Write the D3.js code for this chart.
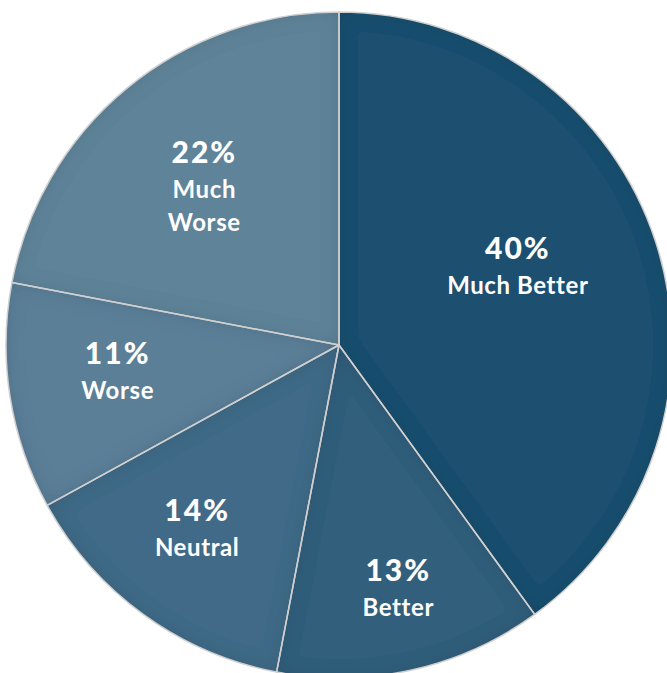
<!DOCTYPE html>
<html><head><meta charset="utf-8">
<script src="https://cdn.jsdelivr.net/npm/d3@7"></script>
<style>html,body{margin:0;padding:0;background:#fff;}svg{display:block;}</style>
</head><body>
<svg id="chart" width="667" height="673"></svg>
<script>
const categories = ["Much Better", "Better", "Neutral", "Worse", "Much Worse"];
const values = [40, 13, 14, 11, 22];
const percentLabels = ["40%", "13%", "14%", "11%", "22%"];
const nameLines = [["Much Better"], ["Better"], ["Neutral"], ["Worse"], ["Much", "Worse"]];
const colors = ["#1c5070", "#335f7c", "#416b87", "#5c7f98", "#5f8399"];

// layout
const cx = 339, cy = 345, R = 333;
const labelRadius = [195, 252, 233, 223, 207];
const labelAngleShift = [-5.5, -1, 1.5, 2, -1]; // degrees

const svg = d3.select("#chart");
const defs = svg.append("defs");
const f = defs.append("filter").attr("id", "inset")
  .attr("filterUnits", "userSpaceOnUse")
  .attr("x", -450).attr("y", -450).attr("width", 900).attr("height", 900);
f.append("feComponentTransfer").attr("in", "SourceAlpha").attr("result", "inv")
  .append("feFuncA").attr("type", "table").attr("tableValues", "1 0");
f.append("feGaussianBlur").attr("in", "inv").attr("stdDeviation", 9).attr("result", "blur");
f.append("feFlood").attr("flood-color", "#000").attr("flood-opacity", 0.22).attr("result", "fl");
f.append("feComposite").attr("in", "fl").attr("in2", "blur").attr("operator", "in").attr("result", "sh");
f.append("feComposite").attr("in", "sh").attr("in2", "SourceAlpha").attr("operator", "in").attr("result", "shc");
const m = f.append("feMerge");
m.append("feMergeNode").attr("in", "SourceGraphic");
m.append("feMergeNode").attr("in", "shc");

const pie = d3.pie().sort(null).value(d => d)(values);
const arc = d3.arc().innerRadius(0).outerRadius(R);

const g = svg.append("g").attr("transform", `translate(${cx},${cy})`);
g.selectAll("path.slice").data(pie).join("path")
  .attr("class", "slice")
  .attr("d", arc)
  .attr("fill", (d, i) => colors[i])
  .attr("filter", "url(#inset)");
g.selectAll("path.edge").data(pie).join("path")
  .attr("class", "edge")
  .attr("d", arc)
  .attr("fill", "none")
  .attr("stroke", "#cfcfcf")
  .attr("stroke-width", 1.5)
  .attr("stroke-linejoin", "round");

const labels = g.selectAll("g.lab").data(pie).join("g").attr("class", "lab")
  .attr("transform", (d, i) => {
    const a = (d.startAngle + d.endAngle) / 2 + labelAngleShift[i] * Math.PI / 180;
    const r = labelRadius[i];
    return `translate(${r * Math.sin(a)},${-r * Math.cos(a)})`;
  });
labels.each(function(d, i) {
  const el = d3.select(this);
  const lines = nameLines[i];
  const total = 1 + lines.length;
  const lh = 33;
  const y0 = -((total - 1) * lh) / 2 + 10;
  el.append("text").attr("text-anchor", "middle").attr("y", y0 - 2)
    .attr("font-family", "Lato, sans-serif").attr("font-weight", 900)
    .attr("font-size", 30).attr("letter-spacing", 2).attr("fill", "#fff")
    .text(percentLabels[i]);
  lines.forEach((ln, j) => {
    el.append("text").attr("text-anchor", "middle").attr("y", y0 + lh * (j + 1))
      .attr("font-family", "Lato, sans-serif").attr("font-weight", 700)
      .attr("font-size", 24).attr("letter-spacing", 0.6).attr("fill", "#fff")
      .text(ln);
  });
});
</script>
</body></html>
